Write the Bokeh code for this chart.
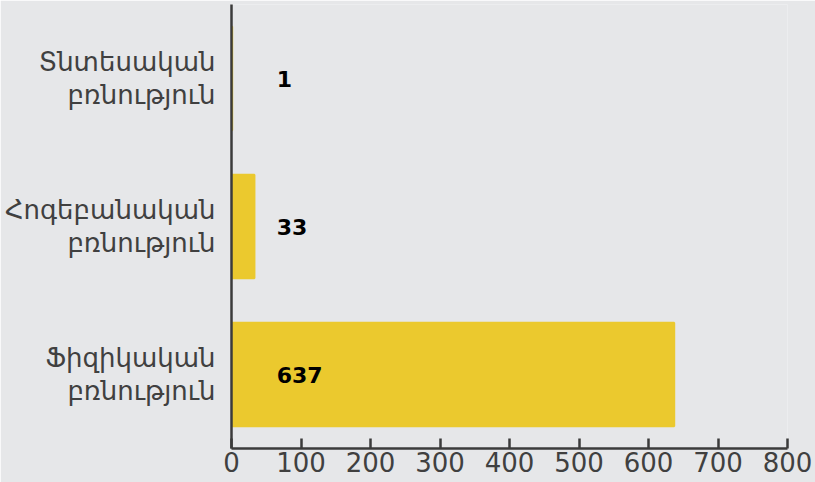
from bokeh.plotting import figure
from bokeh.models import Range1d, FixedTicker, ColumnDataSource
from bokeh.core.properties import value
from bokeh.embed import file_html
from bokeh.resources import INLINE

# data (bottom to top)
categories = ["Ֆիզիկական\nբռնություն", "Հոգեբանական\nբռնություն", "Տնտեսական\nբռնություն"]
counts = [637, 33, 1]
labels = ["637", "33", "1"]
x_ticks = [0, 100, 200, 300, 400, 500, 600, 700, 800]

positions = list(range(len(categories)))
BG = "#e6e7e9"
BAR = "#ebc92e"
INK = "#3b3b3b"
FONT = "DejaVu Sans"
LABEL_X = 65

src = ColumnDataSource(dict(y=positions, right=counts, lab=labels, lx=[LABEL_X] * len(counts)))

p = figure(width=815, height=482, output_backend="svg", toolbar_location=None,
           x_range=Range1d(0, 800), y_range=Range1d(-0.5, 2.5),
           min_border_left=231, min_border_right=28, min_border_top=4,
           min_border_bottom=34)
p.background_fill_color = BG
p.border_fill_color = BG
p.outline_line_color = None
p.grid.visible = False

p.hbar(y="y", right="right", left=0, height=0.7, source=src,
       fill_color=BAR, line_color=BAR, line_width=2)
p.text(x="lx", y="y", text="lab", source=src, text_font=value(FONT),
       text_font_style="bold", text_font_size="22px", text_color="black",
       text_align="left", text_baseline="middle")

xa = p.xaxis[0]
xa.ticker = FixedTicker(ticks=x_ticks)
xa.axis_line_color = INK
xa.axis_line_width = 2.5
xa.major_tick_line_color = INK
xa.major_tick_line_width = 2.5
xa.major_tick_in = 10
xa.major_tick_out = 0
xa.minor_tick_line_color = None
xa.major_label_text_font = FONT
xa.major_label_text_font_size = "26px"
xa.major_label_text_color = "#404040"
xa.major_label_standoff = 3

ya = p.yaxis[0]
ya.ticker = FixedTicker(ticks=positions)
ya.major_label_overrides = {i: c for i, c in zip(positions, categories)}
ya.axis_line_color = INK
ya.axis_line_width = 2.5
ya.major_tick_line_color = None
ya.major_tick_in = 0
ya.major_tick_out = 0
ya.minor_tick_line_color = None
ya.minor_tick_in = 0
ya.minor_tick_out = 0
ya.major_label_text_font = FONT
ya.major_label_text_font_size = "26px"
ya.major_label_text_color = "#404040"
ya.major_label_standoff = 16
ya.major_label_text_line_height = 1.1

open("out.html", "w").write(file_html(p, INLINE))
